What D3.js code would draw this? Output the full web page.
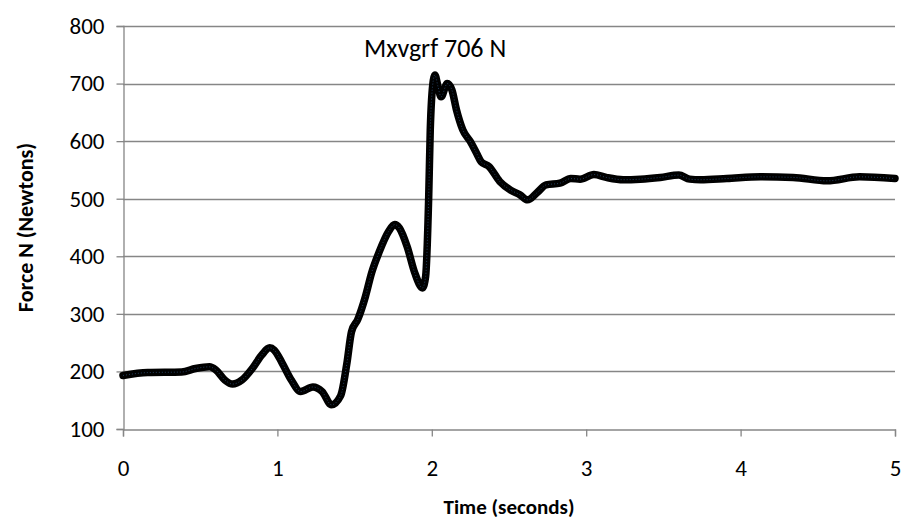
<!DOCTYPE html>
<html>
<head>
<meta charset="utf-8">
<script src="https://cdn.jsdelivr.net/npm/d3@7"></script>
<style>
html,body{margin:0;padding:0;background:#fff;}
svg{display:block;}
text{font-family:Carlito,Calibri,Lato,"Open Sans",sans-serif;fill:#000;}
</style>
</head>
<body>
<svg id="chart" width="903" height="525"></svg>
<script>
const times = [0.00,0.16,0.38,0.47,0.56,0.60,0.66,0.71,0.77,0.84,0.90,0.95,0.98,1.03,1.09,1.15,1.23,1.29,1.35,1.41,1.45,1.48,1.52,1.57,1.61,1.66,1.72,1.76,1.79,1.84,1.89,1.94,1.96,1.98,1.99,2.01,2.02,2.04,2.06,2.10,2.13,2.16,2.20,2.25,2.29,2.32,2.37,2.44,2.51,2.57,2.62,2.68,2.74,2.83,2.90,2.96,3.05,3.13,3.24,3.35,3.48,3.60,3.67,3.74,3.91,4.13,4.34,4.56,4.77,5.00];
const forces = [193,198,199,205,208,203,185,178,185,206,229,241,237,215,185,165,173,165,142,158,214,269,290,330,371,408,443,455,449,417,371,345,365,504,619,706,715,695,677,700,689,654,620,599,579,564,556,530,515,507,498,510,524,527,535,534,542,537,533,534,537,541,534,533,535,538,537,531,538,535];
const xTicks = [0,1,2,3,4,5];
const yTicks = [100,200,300,400,500,600,700,800];
const annotation = "Mxvgrf 706 N";
const xTitle = "Time (seconds)";
const yTitle = "Force N (Newtons)";

const svg = d3.select("#chart");
const pL = 123, pR = 895, pT = 26, pB = 429;
const x = d3.scaleLinear().domain([0,5]).range([pL,pR]);
const y = d3.scaleLinear().domain([100,800]).range([pB,pT]);
const axisColor = "#868686";
const fontFam = "Carlito,Calibri,Lato,'Open Sans',sans-serif";

// gridlines
svg.append("g").selectAll("line").data(yTicks.filter(d=>d>100)).join("line")
  .attr("x1",pL).attr("x2",pR)
  .attr("y1",d=>Math.round(y(d))+0.5).attr("y2",d=>Math.round(y(d))+0.5)
  .attr("stroke",axisColor).attr("stroke-width",1.3);

// y axis
const yAxis = svg.append("g").attr("transform",`translate(${pL+0.5},0)`)
  .call(d3.axisLeft(y).tickValues(yTicks).tickSize(7).tickPadding(12).tickFormat(d3.format("d")));
// x axis
const xAxis = svg.append("g").attr("transform",`translate(0,${Math.round(pB)+0.5})`)
  .call(d3.axisBottom(x).tickValues(xTicks).tickSize(7).tickPadding(23).tickFormat(d3.format("d")));
[yAxis,xAxis].forEach(g=>{
  g.select(".domain").attr("stroke",axisColor).attr("stroke-width",1.3);
  g.selectAll(".tick line").attr("stroke",axisColor).attr("stroke-width",1.3);
  g.selectAll(".tick text").attr("font-size",23).attr("font-family",fontFam).attr("fill","#000");
});

// data
const data = times.map((t,i)=>({t, f: forces[i]}));
const line = d3.line().x(d=>x(d.t)).y(d=>y(d.f)).curve(d3.curveMonotoneX);
svg.append("path").datum(data).attr("d",line)
  .attr("fill","none").attr("stroke","#000").attr("stroke-width",7.5)
  .attr("stroke-linejoin","round").attr("stroke-linecap","round");
svg.append("path").datum(data).attr("d",line)
  .attr("fill","none").attr("stroke","#4a7ebb").attr("stroke-width",1)
  .attr("stroke-dasharray","1,2").attr("opacity",0.5);

// annotation
svg.append("text").attr("x",364).attr("y",57).attr("font-size",26).text(annotation);

// titles
svg.append("text").attr("x",(pL+pR)/2).attr("y",514).attr("text-anchor","middle")
  .attr("font-size",21).attr("font-weight","bold").text(xTitle);
svg.append("text").attr("transform",`translate(33,${(pT+pB)/2}) rotate(-90)`)
  .attr("text-anchor","middle").attr("font-size",22).attr("font-weight","bold").text(yTitle);
</script>
</body>
</html>
